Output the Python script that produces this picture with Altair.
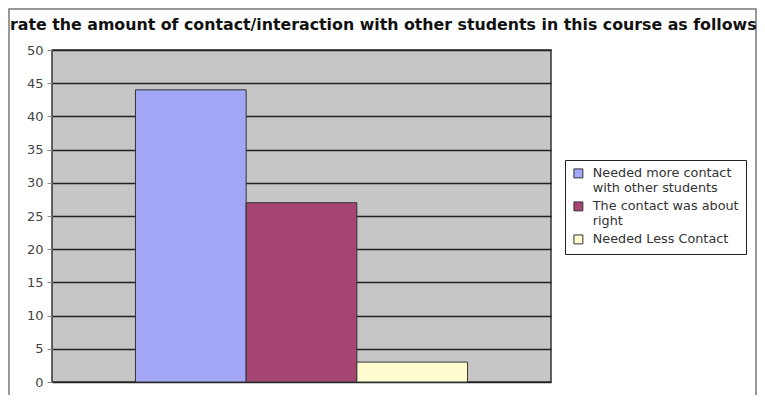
import altair as alt
import pandas as pd

categories = ["Needed more contact with other students", "The contact was about right", "Needed Less Contact"]
values = [44, 27, 3]
colors = ["#A4A6F6", "#A44572", "#FFFCD0"]
y_ticks = [0, 5, 10, 15, 20, 25, 30, 35, 40, 45, 50]
title_text = ["rate the amount of contact/interaction with other students in this course as follows"]

df = pd.DataFrame({"response": categories, "count": values})

W, H = 499, 332
PL, PT = 44, 42
TOTAL_W, TOTAL_H = 749, 387

bars = alt.Chart(df).mark_bar(stroke="#333333", strokeWidth=1).encode(
    x=alt.X("response:N", sort=categories, axis=None,
            scale=alt.Scale(paddingInner=0, paddingOuter=0.754)),
    y=alt.Y("count:Q", scale=alt.Scale(domain=[0, 50], nice=False),
            axis=alt.Axis(values=y_ticks, title=None, grid=True, gridColor="#222222",
                          gridWidth=1.5, domain=False, tickColor="#888888", tickSize=5,
                          labelFont="DejaVu Sans", labelFontSize=13, labelColor="#444444",
                          labelPadding=4)),
    color=alt.Color("response:N", sort=categories,
                    scale=alt.Scale(domain=categories, range=colors),
                    legend=alt.Legend(
                        title=None, orient="none", legendX=513, legendY=110,
                        strokeColor="#222222", fillColor="white", padding=7,
                        symbolType="square", symbolSize=80, symbolStrokeColor="#333333",
                        symbolStrokeWidth=1, labelFont="DejaVu Sans", labelFontSize=12.8,
                        labelColor="#333333", labelLimit=0, rowPadding=4, labelOffset=8,
                        labelExpr="datum.label == 'Needed more contact with other students' ? ['Needed more contact', 'with other students'] : datum.label == 'The contact was about right' ? ['The contact was about', 'right'] : datum.label")),
)

frame = alt.Chart(pd.DataFrame({"a": [0]})).mark_rect(fill=None, stroke="#777777", strokeWidth=1.5).encode(
    x=alt.value(-PL + 1), x2=alt.value(TOTAL_W - PL - 1),
    y=alt.value(-PT + 1), y2=alt.value(TOTAL_H - PT + 5),
)

title = alt.Chart(pd.DataFrame({"t": title_text})).mark_text(
    align="left", baseline="alphabetic", font="DejaVu Sans", fontSize=15.8,
    fontWeight="bold", color="#111111"
).encode(x=alt.value(-42), y=alt.value(-20), text="t:N")

chart = alt.layer(frame, bars, title).properties(
    width=W, height=H,
    autosize=alt.AutoSizeParams(type="none"),
    padding={"left": PL, "top": PT, "right": TOTAL_W - PL - W, "bottom": TOTAL_H - PT - H},
).configure_view(fill="#C6C6C6", stroke="#333333", strokeWidth=1.5)

chart.save("out.html", embed_options={"renderer": "svg", "actions": False})
